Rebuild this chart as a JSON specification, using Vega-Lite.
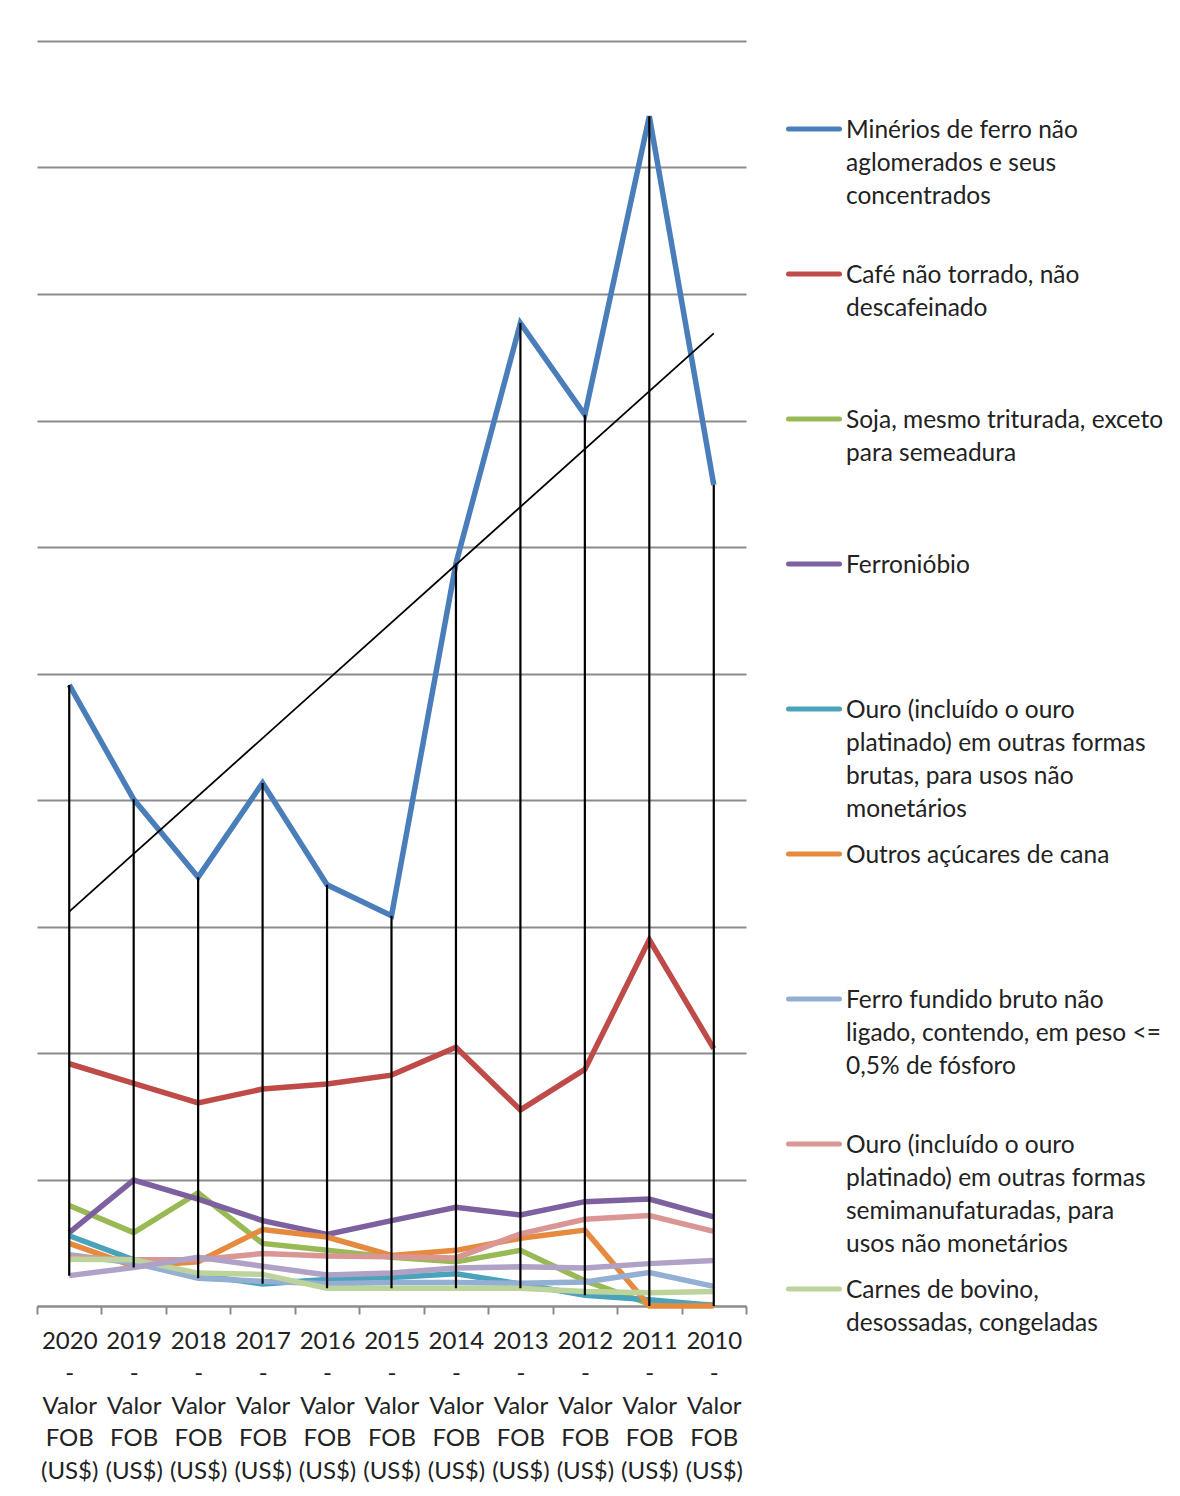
{
  "$schema": "https://vega.github.io/schema/vega-lite/v6.json",
  "width": 709,
  "height": 1265,
  "autosize": {"type": "none"},
  "padding": {"left": 37, "top": 41, "right": 434, "bottom": 190},
  "background": "#ffffff",
  "config": {
    "view": {"stroke": null},
    "font": "Lato"
  },
  "data": {
    "values": [
      {"ano": 2020, "produto": "Minérios de ferro não aglomerados e seus concentrados", "valor": 9.82},
      {"ano": 2019, "produto": "Minérios de ferro não aglomerados e seus concentrados", "valor": 8.01},
      {"ano": 2018, "produto": "Minérios de ferro não aglomerados e seus concentrados", "valor": 6.78},
      {"ano": 2017, "produto": "Minérios de ferro não aglomerados e seus concentrados", "valor": 8.27},
      {"ano": 2016, "produto": "Minérios de ferro não aglomerados e seus concentrados", "valor": 6.66},
      {"ano": 2015, "produto": "Minérios de ferro não aglomerados e seus concentrados", "valor": 6.17},
      {"ano": 2014, "produto": "Minérios de ferro não aglomerados e seus concentrados", "valor": 11.74},
      {"ano": 2013, "produto": "Minérios de ferro não aglomerados e seus concentrados", "valor": 15.54},
      {"ano": 2012, "produto": "Minérios de ferro não aglomerados e seus concentrados", "valor": 14.09},
      {"ano": 2011, "produto": "Minérios de ferro não aglomerados e seus concentrados", "valor": 18.81},
      {"ano": 2010, "produto": "Minérios de ferro não aglomerados e seus concentrados", "valor": 12.98},

      {"ano": 2020, "produto": "Café não torrado, não descafeinado", "valor": 3.83},
      {"ano": 2019, "produto": "Café não torrado, não descafeinado", "valor": 3.52},
      {"ano": 2018, "produto": "Café não torrado, não descafeinado", "valor": 3.21},
      {"ano": 2017, "produto": "Café não torrado, não descafeinado", "valor": 3.43},
      {"ano": 2016, "produto": "Café não torrado, não descafeinado", "valor": 3.51},
      {"ano": 2015, "produto": "Café não torrado, não descafeinado", "valor": 3.65},
      {"ano": 2014, "produto": "Café não torrado, não descafeinado", "valor": 4.09},
      {"ano": 2013, "produto": "Café não torrado, não descafeinado", "valor": 3.10},
      {"ano": 2012, "produto": "Café não torrado, não descafeinado", "valor": 3.74},
      {"ano": 2011, "produto": "Café não torrado, não descafeinado", "valor": 5.79},
      {"ano": 2010, "produto": "Café não torrado, não descafeinado", "valor": 4.07},

      {"ano": 2020, "produto": "Soja, mesmo triturada, exceto para semeadura", "valor": 1.59},
      {"ano": 2019, "produto": "Soja, mesmo triturada, exceto para semeadura", "valor": 1.16},
      {"ano": 2018, "produto": "Soja, mesmo triturada, exceto para semeadura", "valor": 1.79},
      {"ano": 2017, "produto": "Soja, mesmo triturada, exceto para semeadura", "valor": 0.99},
      {"ano": 2016, "produto": "Soja, mesmo triturada, exceto para semeadura", "valor": 0.88},
      {"ano": 2015, "produto": "Soja, mesmo triturada, exceto para semeadura", "valor": 0.77},
      {"ano": 2014, "produto": "Soja, mesmo triturada, exceto para semeadura", "valor": 0.70},
      {"ano": 2013, "produto": "Soja, mesmo triturada, exceto para semeadura", "valor": 0.88},
      {"ano": 2012, "produto": "Soja, mesmo triturada, exceto para semeadura", "valor": 0.40},
      {"ano": 2011, "produto": "Soja, mesmo triturada, exceto para semeadura", "valor": 0.03},
      {"ano": 2010, "produto": "Soja, mesmo triturada, exceto para semeadura", "valor": 0.02},

      {"ano": 2020, "produto": "Ferronióbio", "valor": 1.16},
      {"ano": 2019, "produto": "Ferronióbio", "valor": 1.99},
      {"ano": 2018, "produto": "Ferronióbio", "valor": 1.69},
      {"ano": 2017, "produto": "Ferronióbio", "valor": 1.35},
      {"ano": 2016, "produto": "Ferronióbio", "valor": 1.13},
      {"ano": 2015, "produto": "Ferronióbio", "valor": 1.35},
      {"ano": 2014, "produto": "Ferronióbio", "valor": 1.56},
      {"ano": 2013, "produto": "Ferronióbio", "valor": 1.44},
      {"ano": 2012, "produto": "Ferronióbio", "valor": 1.65},
      {"ano": 2011, "produto": "Ferronióbio", "valor": 1.69},
      {"ano": 2010, "produto": "Ferronióbio", "valor": 1.41},

      {"ano": 2020, "produto": "Ouro (incluído o ouro platinado) em outras formas brutas, para usos não monetários", "valor": 1.11},
      {"ano": 2019, "produto": "Ouro (incluído o ouro platinado) em outras formas brutas, para usos não monetários", "valor": 0.73},
      {"ano": 2018, "produto": "Ouro (incluído o ouro platinado) em outras formas brutas, para usos não monetários", "valor": 0.49},
      {"ano": 2017, "produto": "Ouro (incluído o ouro platinado) em outras formas brutas, para usos não monetários", "valor": 0.35},
      {"ano": 2016, "produto": "Ouro (incluído o ouro platinado) em outras formas brutas, para usos não monetários", "valor": 0.42},
      {"ano": 2015, "produto": "Ouro (incluído o ouro platinado) em outras formas brutas, para usos não monetários", "valor": 0.45},
      {"ano": 2014, "produto": "Ouro (incluído o ouro platinado) em outras formas brutas, para usos não monetários", "valor": 0.51},
      {"ano": 2013, "produto": "Ouro (incluído o ouro platinado) em outras formas brutas, para usos não monetários", "valor": 0.35},
      {"ano": 2012, "produto": "Ouro (incluído o ouro platinado) em outras formas brutas, para usos não monetários", "valor": 0.17},
      {"ano": 2011, "produto": "Ouro (incluído o ouro platinado) em outras formas brutas, para usos não monetários", "valor": 0.10},
      {"ano": 2010, "produto": "Ouro (incluído o ouro platinado) em outras formas brutas, para usos não monetários", "valor": 0.01},

      {"ano": 2020, "produto": "Outros açúcares de cana", "valor": 0.99},
      {"ano": 2019, "produto": "Outros açúcares de cana", "valor": 0.63},
      {"ano": 2018, "produto": "Outros açúcares de cana", "valor": 0.70},
      {"ano": 2017, "produto": "Outros açúcares de cana", "valor": 1.21},
      {"ano": 2016, "produto": "Outros açúcares de cana", "valor": 1.09},
      {"ano": 2015, "produto": "Outros açúcares de cana", "valor": 0.80},
      {"ano": 2014, "produto": "Outros açúcares de cana", "valor": 0.88},
      {"ano": 2013, "produto": "Outros açúcares de cana", "valor": 1.07},
      {"ano": 2012, "produto": "Outros açúcares de cana", "valor": 1.20},
      {"ano": 2011, "produto": "Outros açúcares de cana", "valor": 0.0},
      {"ano": 2010, "produto": "Outros açúcares de cana", "valor": 0.0},

      {"ano": 2020, "produto": "Ferro fundido bruto não ligado, contendo, em peso <= 0,5% de fósforo", "valor": 0.81},
      {"ano": 2019, "produto": "Ferro fundido bruto não ligado, contendo, em peso <= 0,5% de fósforo", "valor": 0.68},
      {"ano": 2018, "produto": "Ferro fundido bruto não ligado, contendo, em peso <= 0,5% de fósforo", "valor": 0.44},
      {"ano": 2017, "produto": "Ferro fundido bruto não ligado, contendo, em peso <= 0,5% de fósforo", "valor": 0.39},
      {"ano": 2016, "produto": "Ferro fundido bruto não ligado, contendo, em peso <= 0,5% de fósforo", "valor": 0.35},
      {"ano": 2015, "produto": "Ferro fundido bruto não ligado, contendo, em peso <= 0,5% de fósforo", "valor": 0.37},
      {"ano": 2014, "produto": "Ferro fundido bruto não ligado, contendo, em peso <= 0,5% de fósforo", "valor": 0.37},
      {"ano": 2013, "produto": "Ferro fundido bruto não ligado, contendo, em peso <= 0,5% de fósforo", "valor": 0.36},
      {"ano": 2012, "produto": "Ferro fundido bruto não ligado, contendo, em peso <= 0,5% de fósforo", "valor": 0.38},
      {"ano": 2011, "produto": "Ferro fundido bruto não ligado, contendo, em peso <= 0,5% de fósforo", "valor": 0.53},
      {"ano": 2010, "produto": "Ferro fundido bruto não ligado, contendo, em peso <= 0,5% de fósforo", "valor": 0.31},

      {"ano": 2020, "produto": "Ouro (incluído o ouro platinado) em outras formas semimanufaturadas, para usos não monetários", "valor": 0.77},
      {"ano": 2019, "produto": "Ouro (incluído o ouro platinado) em outras formas semimanufaturadas, para usos não monetários", "valor": 0.73},
      {"ano": 2018, "produto": "Ouro (incluído o ouro platinado) em outras formas semimanufaturadas, para usos não monetários", "valor": 0.73},
      {"ano": 2017, "produto": "Ouro (incluído o ouro platinado) em outras formas semimanufaturadas, para usos não monetários", "valor": 0.83},
      {"ano": 2016, "produto": "Ouro (incluído o ouro platinado) em outras formas semimanufaturadas, para usos não monetários", "valor": 0.79},
      {"ano": 2015, "produto": "Ouro (incluído o ouro platinado) em outras formas semimanufaturadas, para usos não monetários", "valor": 0.78},
      {"ano": 2014, "produto": "Ouro (incluído o ouro platinado) em outras formas semimanufaturadas, para usos não monetários", "valor": 0.76},
      {"ano": 2013, "produto": "Ouro (incluído o ouro platinado) em outras formas semimanufaturadas, para usos não monetários", "valor": 1.14},
      {"ano": 2012, "produto": "Ouro (incluído o ouro platinado) em outras formas semimanufaturadas, para usos não monetários", "valor": 1.37},
      {"ano": 2011, "produto": "Ouro (incluído o ouro platinado) em outras formas semimanufaturadas, para usos não monetários", "valor": 1.43},
      {"ano": 2010, "produto": "Ouro (incluído o ouro platinado) em outras formas semimanufaturadas, para usos não monetários", "valor": 1.18},

      {"ano": 2020, "produto": "Carnes de bovino, desossadas, congeladas", "valor": 0.74},
      {"ano": 2019, "produto": "Carnes de bovino, desossadas, congeladas", "valor": 0.73},
      {"ano": 2018, "produto": "Carnes de bovino, desossadas, congeladas", "valor": 0.52},
      {"ano": 2017, "produto": "Carnes de bovino, desossadas, congeladas", "valor": 0.50},
      {"ano": 2016, "produto": "Carnes de bovino, desossadas, congeladas", "valor": 0.28},
      {"ano": 2015, "produto": "Carnes de bovino, desossadas, congeladas", "valor": 0.28},
      {"ano": 2014, "produto": "Carnes de bovino, desossadas, congeladas", "valor": 0.28},
      {"ano": 2013, "produto": "Carnes de bovino, desossadas, congeladas", "valor": 0.28},
      {"ano": 2012, "produto": "Carnes de bovino, desossadas, congeladas", "valor": 0.23},
      {"ano": 2011, "produto": "Carnes de bovino, desossadas, congeladas", "valor": 0.21},
      {"ano": 2010, "produto": "Carnes de bovino, desossadas, congeladas", "valor": 0.23},

      {"ano": 2020, "produto": "Pastas químicas de madeira, à soda ou ao sulfato", "valor": 0.48},
      {"ano": 2019, "produto": "Pastas químicas de madeira, à soda ou ao sulfato", "valor": 0.61},
      {"ano": 2018, "produto": "Pastas químicas de madeira, à soda ou ao sulfato", "valor": 0.77},
      {"ano": 2017, "produto": "Pastas químicas de madeira, à soda ou ao sulfato", "valor": 0.63},
      {"ano": 2016, "produto": "Pastas químicas de madeira, à soda ou ao sulfato", "valor": 0.49},
      {"ano": 2015, "produto": "Pastas químicas de madeira, à soda ou ao sulfato", "valor": 0.52},
      {"ano": 2014, "produto": "Pastas químicas de madeira, à soda ou ao sulfato", "valor": 0.60},
      {"ano": 2013, "produto": "Pastas químicas de madeira, à soda ou ao sulfato", "valor": 0.62},
      {"ano": 2012, "produto": "Pastas químicas de madeira, à soda ou ao sulfato", "valor": 0.60},
      {"ano": 2011, "produto": "Pastas químicas de madeira, à soda ou ao sulfato", "valor": 0.67},
      {"ano": 2010, "produto": "Pastas químicas de madeira, à soda ou ao sulfato", "valor": 0.72}
    ]
  },
  "encoding": {
    "x": {
      "field": "ano",
      "type": "ordinal",
      "scale": {
        "type": "band",
        "domain": [2020, 2019, 2018, 2017, 2016, 2015, 2014, 2013, 2012, 2011, 2010],
        "paddingInner": 0,
        "paddingOuter": 0
      },
      "axis": {
        "title": null,
        "grid": false,
        "tickBand": "extent",
        "labelAngle": 0,
        "labelOverlap": false,
        "labelBound": false,
        "labelExpr": "datum.label ? [datum.label, '-', 'Valor', 'FOB', '(US$)'] : ''",
        "labelFont": "Lato",
        "labelFontSize": 24,
        "labelColor": "#222222",
        "labelLineHeight": 32.5,
        "labelPadding": 15,
        "domainColor": "#8c8c8c",
        "domainWidth": 2,
        "tickColor": "#8c8c8c",
        "tickWidth": 2,
        "tickSize": 8
      }
    },
    "y": {
      "field": "valor",
      "type": "quantitative",
      "scale": {"domain": [0, 20], "nice": false, "zero": true},
      "axis": {
        "title": null,
        "labels": false,
        "ticks": false,
        "domain": false,
        "grid": true,
        "values": [0, 2, 4, 6, 8, 10, 12, 14, 16, 18, 20],
        "gridColor": "#8c8c8c",
        "gridWidth": 2,
        "minExtent": 0,
        "maxExtent": 0
      }
    }
  },
  "layer": [
    {
      "mark": {"type": "line", "strokeWidth": 5.5, "strokeJoin": "miter"},
      "encoding": {
        "color": {
          "field": "produto",
          "type": "nominal",
          "scale": {
            "domain": [
              "Minérios de ferro não aglomerados e seus concentrados",
              "Café não torrado, não descafeinado",
              "Soja, mesmo triturada, exceto para semeadura",
              "Ferronióbio",
              "Ouro (incluído o ouro platinado) em outras formas brutas, para usos não monetários",
              "Outros açúcares de cana",
              "Ferro fundido bruto não ligado, contendo, em peso <= 0,5% de fósforo",
              "Ouro (incluído o ouro platinado) em outras formas semimanufaturadas, para usos não monetários",
              "Carnes de bovino, desossadas, congeladas",
              "Pastas químicas de madeira, à soda ou ao sulfato"
            ],
            "range": ["#4a7ebb", "#be4b48", "#98b954", "#7d60a0", "#4aa3ba", "#e68a3f", "#95aed4", "#d99694", "#bcd49b", "#b0a1c6"]
          },
          "legend": {
            "title": null,
            "orient": "none",
            "legendX": 749,
            "legendY": 60,
            "direction": "vertical",
            "padding": 0,
            "gridAlign": "all",
            "rowPadding": 4,
            "values": [
              "Minérios de ferro não aglomerados e seus concentrados",
              "Café não torrado, não descafeinado",
              "Soja, mesmo triturada, exceto para semeadura",
              "Ferronióbio",
              "Ouro (incluído o ouro platinado) em outras formas brutas, para usos não monetários",
              "Outros açúcares de cana",
              "Ferro fundido bruto não ligado, contendo, em peso <= 0,5% de fósforo",
              "Ouro (incluído o ouro platinado) em outras formas semimanufaturadas, para usos não monetários",
              "Carnes de bovino, desossadas, congeladas"
            ],
            "symbolType": "stroke",
            "symbolStrokeWidth": 5,
            "symbolSize": 2601,
            "labelFont": "Lato",
            "labelFontSize": 24.5,
            "labelColor": "#222222",
            "labelLimit": 0,
            "labelOffset": 4,
            "labelBaseline": "alphabetic",
            "labelExpr": "datum.label == 'Minérios de ferro não aglomerados e seus concentrados' ? ['Minérios de ferro não', 'aglomerados e seus', 'concentrados'] : datum.label == 'Café não torrado, não descafeinado' ? ['Café não torrado, não', 'descafeinado'] : datum.label == 'Soja, mesmo triturada, exceto para semeadura' ? ['Soja, mesmo triturada, exceto', 'para semeadura'] : datum.label == 'Ouro (incluído o ouro platinado) em outras formas brutas, para usos não monetários' ? ['Ouro (incluído o ouro', 'platinado) em outras formas', 'brutas, para usos não', 'monetários'] : datum.label == 'Ferro fundido bruto não ligado, contendo, em peso <= 0,5% de fósforo' ? ['Ferro fundido bruto não', 'ligado, contendo, em peso <=', '0,5% de fósforo'] : datum.label == 'Ouro (incluído o ouro platinado) em outras formas semimanufaturadas, para usos não monetários' ? ['Ouro (incluído o ouro', 'platinado) em outras formas', 'semimanufaturadas, para', 'usos não monetários'] : datum.label == 'Carnes de bovino, desossadas, congeladas' ? ['Carnes de bovino,', 'desossadas, congeladas'] : datum.label",
            "encode": {
              "labels": {"update": {"dy": {"value": 9}, "lineHeight": {"value": 33}}},
              "symbols": {"update": {"strokeCap": {"value": "round"}}}
            }
          }
        }
      }
    },
    {
      "transform": [
        {"aggregate": [{"op": "max", "field": "valor", "as": "maximo"}, {"op": "min", "field": "valor", "as": "minimo"}], "groupby": ["ano"]}
      ],
      "mark": {"type": "rule", "color": "#000000", "strokeWidth": 2.2},
      "encoding": {
        "y": {"field": "maximo", "type": "quantitative"},
        "y2": {"field": "minimo"}
      }
    },
    {
      "transform": [
        {"filter": "datum.produto == 'Minérios de ferro não aglomerados e seus concentrados'"},
        {"regression": "valor", "on": "ano", "method": "linear"}
      ],
      "mark": {"type": "line", "color": "#000000", "strokeWidth": 1.8},
      "encoding": {}
    }
  ]
}
